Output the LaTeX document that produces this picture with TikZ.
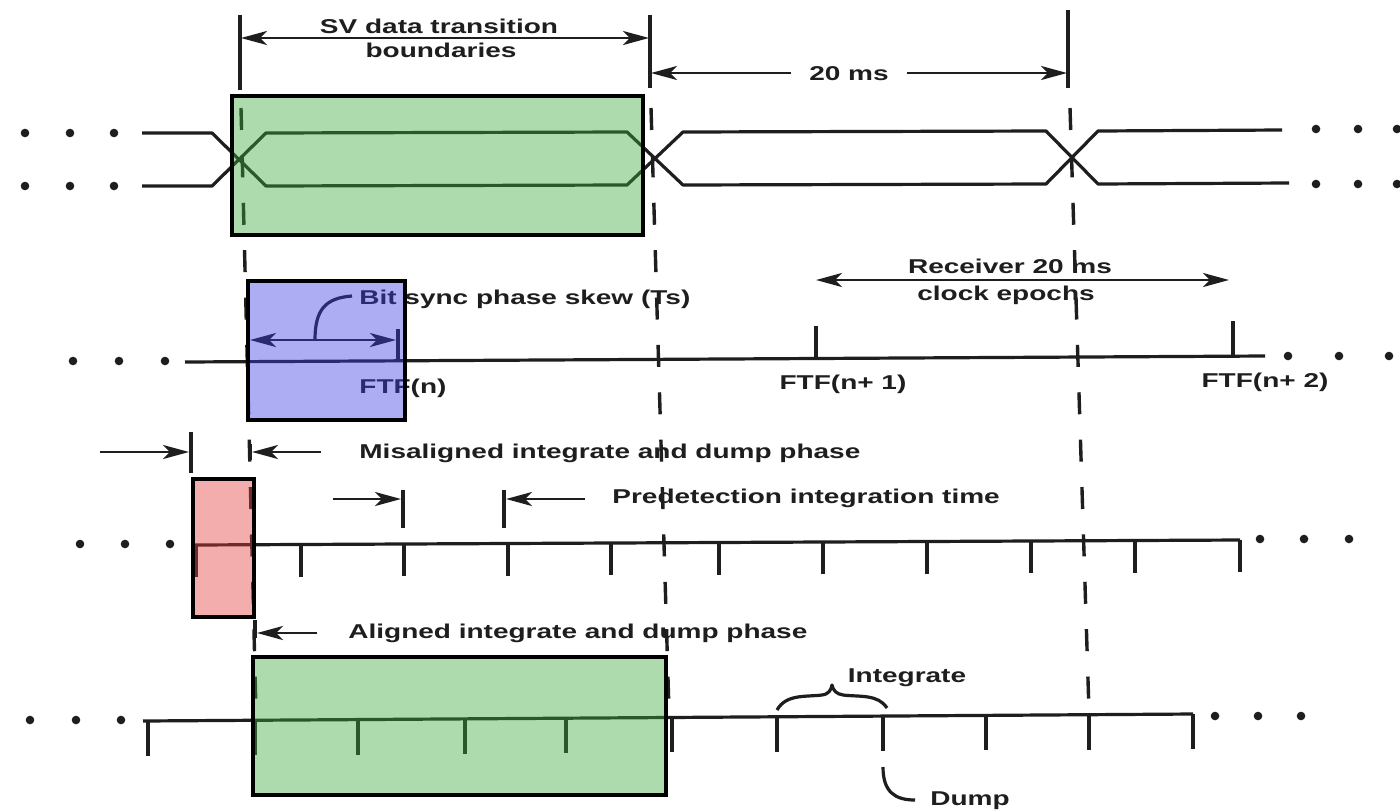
\documentclass[tikz,border=0pt]{standalone}
\usepackage{fontspec}
\newfontfamily\labfont{Liberation Sans}[FakeStretch=1.4]
\usetikzlibrary{arrows.meta}
\definecolor{ink}{RGB}{30,30,30}
\definecolor{gbox}{RGB}{60,170,60}
\definecolor{bbox}{RGB}{60,60,230}
\definecolor{rbox}{RGB}{230,60,60}
\begin{document}
\begin{tikzpicture}[x=0.5pt,y=-0.5pt,
  wline/.style={draw=ink,line width=1.6pt,line join=round},
  tk/.style={draw=ink,line width=1.6pt},
  arr/.style={draw=ink,line width=1.4pt,-{Stealth[length=13pt,width=7pt,inset=3.5pt]}},
  darr/.style={draw=ink,line width=1.4pt,{Stealth[length=13pt,width=7pt,inset=3.5pt]}-{Stealth[length=13pt,width=7pt,inset=3.5pt]}},
  lbl/.style={font=\labfont\bfseries\fontsize{10pt}{12pt}\selectfont,text=ink,inner sep=0pt},
  ddot/.style={circle,fill=ink,inner sep=0pt,minimum size=4.3pt},
  epoch/.style={draw=ink,line width=1.7pt,dash pattern=on 11pt off 12.7pt},
  hbox/.style={draw=black,line width=1.6pt,fill opacity=0.42,draw opacity=1}
]
\fill[white] (0,0) rectangle (1400,809);
\useasboundingbox (0,0) rectangle (1400,809);

% ---------- top: SV data transitions ----------
\draw[tk] (240,15) -- (240,90);
\draw[tk] (650,15) -- (650,88);
\draw[tk] (1068,10) -- (1068,88);
\node[lbl,anchor=base] (sv1) at (439,33) {SV data transition};
\node[lbl,anchor=base] (sv2) at (441,57) {boundaries};
\draw[darr] (241,38) -- (649,38);
\node[lbl,anchor=base] (ms) at (849,80) {20 ms};
\draw[arr] (791,73) -- (651,73);
\draw[arr] (907,73) -- (1067,73);

% signal
\draw[wline] (142,133) -- (212,133) -- (266,186) -- (627,185) -- (683,132) -- (1046,131) -- (1098,184) -- (1289,183);
\draw[wline] (142,186) -- (212,186) -- (266,133) -- (627,132) -- (683,185) -- (1046,184) -- (1098,131) -- (1282,130);
\foreach \x in {25,70,114} {\node[ddot] at (\x,133) {}; \node[ddot] at (\x,186) {};}
\foreach \x in {1316,1358,1397} {\node[ddot] at (\x,129) {}; \node[ddot] at (\x,184) {};}

% epoch dashed lines
\draw[epoch] (241,108) -- (256,712);
\draw[epoch] (651,108) -- (669,712);
\draw[epoch] (1070,108) -- (1089,712);

% ---------- row 2: receiver clock epochs ----------
\foreach \x in {73,119,165} \node[ddot] at (\x,361) {};
\foreach \x in {1288,1339,1389} \node[ddot] at (\x,356) {};
\draw[wline] (185,362) -- (1265,356);
\draw[tk] (248,312) -- (248,374);
\draw[tk] (398,329) -- (398,361);
\draw[tk] (816,326) -- (816,359);
\draw[tk] (1233,321) -- (1233,357);
\draw[darr] (250,340) -- (396,340);
\draw[wline] (315,340) .. controls (315,310) and (325,298) .. (352,296);
\node[lbl,anchor=base west] (bs) at (359,304) {Bit sync phase skew (Ts)};
\node[lbl,anchor=base west] (f0) at (359,393) {FTF(n)};
\node[lbl,anchor=base] (f1) at (843,389) {FTF(n+ 1)};
\node[lbl,anchor=base] (f2) at (1265,387) {FTF(n+ 2)};
\draw[darr] (816,280) -- (1229,280);
\node[lbl,anchor=base] (rc1) at (1010,273) {Receiver 20 ms};
\node[lbl,anchor=base] (rc2) at (1006,300) {clock epochs};

% ---------- row 3: misaligned ----------
\draw[tk] (191,432) -- (191,473);
\draw[arr] (100,452) -- (189,452);
\draw[tk] (250,444) -- (250,460);
\draw[arr] (321,452) -- (252,452);
\node[lbl,anchor=base west] (mis) at (359,458) {Misaligned integrate and dump phase};
\draw[tk] (403,490) -- (403,528);
\draw[arr] (333,499) -- (401,499);
\draw[tk] (504,490) -- (504,528);
\draw[arr] (585,499) -- (506,499);
\node[lbl,anchor=base west] (pre) at (612,503) {Predetection integration time};
\foreach \x in {80,125,170} \node[ddot] at (\x,544) {};
\foreach \x in {1260,1304,1349} \node[ddot] at (\x,539) {};
\draw[wline] (194,545) -- (1240,540);
\foreach \x in {196,301,404,508,611,719,823,927,1031,1135,1240}
  \draw[tk] (\x,{545-5*(\x-194)/1046}) -- ++(0,32);

% ---------- row 4: aligned ----------
\draw[tk] (255,620) -- (255,638);
\draw[arr] (317,633) -- (257,633);
\node[lbl,anchor=base west] (ali) at (348,638) {Aligned integrate and dump phase};
\foreach \x in {30,76,121} \node[ddot] at (\x,720) {};
\foreach \x in {1215,1258,1301} \node[ddot] at (\x,716) {};
\draw[wline] (143,721) -- (1193,714);
\foreach \x in {148,255,358,465,566,672,777,883,986,1089,1193}
  \draw[tk] (\x,{721-7*(\x-143)/1050}) -- ++(0,35);
\draw[wline] (777,710) .. controls (786,694) and (805,697) .. (822,695) .. controls (829,694) and (831,690) .. (832,685) .. controls (833,690) and (836,694) .. (843,695) .. controls (860,697) and (878,694) .. (887,708);
\node[lbl,anchor=base] (int) at (907,682) {Integrate};
\draw[wline] (883,767) .. controls (883,792) and (895,800) .. (915,800);
\node[lbl,anchor=base west] (dump) at (930,805) {Dump};

% ---------- highlight boxes ----------
\path[hbox,fill=gbox] (232,96) rectangle (643,235);
\path[hbox,fill=bbox] (248,281) rectangle (405,420);
\path[hbox,fill=rbox] (193,479) rectangle (254,617);
\path[hbox,fill=gbox] (253,657) rectangle (666,795);
\end{tikzpicture}
\end{document}
